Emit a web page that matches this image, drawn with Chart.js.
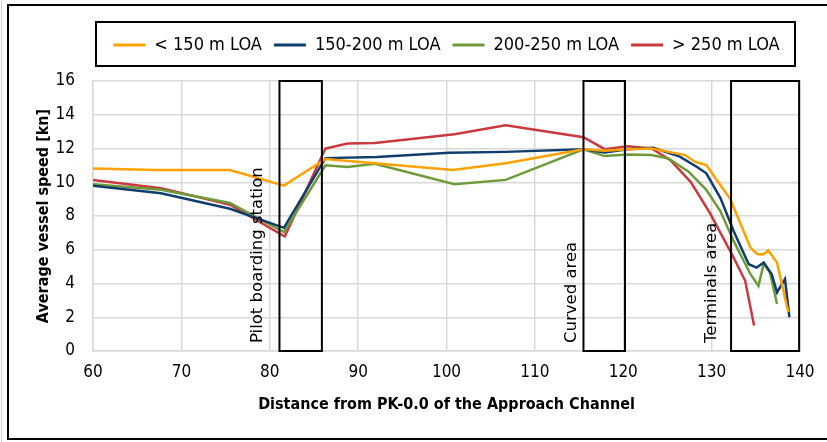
<!DOCTYPE html>
<html>
<head>
<meta charset="utf-8">
<script src="https://cdn.jsdelivr.net/npm/chart.js@4.4.1/dist/chart.umd.min.js"></script>
<style>
  html, body { margin: 0; padding: 0; background: #fff; }
  #wrap { position: relative; width: 827px; height: 442px; }
</style>
</head>
<body>
<div id="wrap"><canvas id="chart" width="827" height="442"></canvas></div>
<script>
// Speed profiles along the approach channel, one per LOA class
const seriesNames = ['< 150 m LOA', '150-200 m LOA', '200-250 m LOA', '> 250 m LOA'];

const distSmall = [60, 67.2, 75.5, 81.6, 86.3, 100.7, 106.7, 115.5, 117.9, 120.5, 123.2, 127.0, 128.1, 129.4, 130.7, 132.1, 133.0, 134.4, 135.2, 135.9, 136.4, 137.4, 138.5, 138.7];
const speedSmall = [10.82, 10.73, 10.73, 9.8, 11.38, 10.72, 11.12, 11.95, 11.86, 11.95, 12.0, 11.61, 11.22, 11.02, 10.04, 9.02, 7.88, 6.12, 5.73, 5.73, 5.96, 5.24, 2.69, 2.3];

const distMedium = [60, 67.7, 75.5, 81.6, 86.3, 92.1, 100.3, 106.7, 115.5, 117.9, 120.5, 123.4, 126.4, 128.3, 129.4, 131.0, 132.5, 134.2, 135.1, 135.9, 136.8, 137.4, 138.3, 138.8];
const speedMedium = [9.8, 9.35, 8.43, 7.3, 11.43, 11.5, 11.75, 11.8, 11.95, 11.76, 11.95, 12.04, 11.52, 10.92, 10.53, 9.06, 7.1, 5.14, 4.94, 5.24, 4.55, 3.47, 4.26, 2.0];

const distLarge = [60, 67.7, 75.5, 81.6, 86.3, 88.8, 91.9, 100.9, 106.7, 115.5, 117.9, 120.5, 123.2, 125.1, 127.4, 129.4, 131.0, 132.5, 134.4, 135.3, 135.9, 136.6, 137.4];
const speedLarge = [9.88, 9.55, 8.77, 7.05, 11.0, 10.9, 11.1, 9.88, 10.14, 11.95, 11.55, 11.65, 11.61, 11.41, 10.63, 9.55, 8.28, 6.51, 4.55, 3.86, 5.18, 4.65, 2.79];

const distXL = [60, 67.7, 75.5, 81.7, 86.3, 88.8, 91.9, 100.9, 106.7, 115.5, 117.9, 120.5, 123.2, 125.3, 127.6, 129.8, 132.3, 133.8, 134.8];
const speedXL = [10.14, 9.65, 8.67, 6.78, 12.0, 12.3, 12.33, 12.85, 13.38, 12.67, 11.96, 12.14, 12.0, 11.32, 10.04, 8.18, 5.73, 4.16, 1.51];

// marked stretches of the channel (km)
const zoneNames = ['Pilot boarding station', 'Curved area', 'Terminals area'];
const zoneStart = [81.1, 115.5, 132.2];
const zoneEnd = [85.9, 120.2, 139.9];

// where the zone captions sit (x in km)
const captionX = [78.6, 114.2, 130.0];

const colors = ['#FFA200', '#0F3D6E', '#6E9A3A', '#C9393D'];
const condensed = "'DejaVu Sans Condensed', 'Liberation Sans Narrow', sans-serif";

function toPoints(xs, ys) {
    return xs.map((x, i) => ({ x: x, y: ys[i] }));
}

const allDist = [distSmall, distMedium, distLarge, distXL];
const allSpeed = [speedSmall, speedMedium, speedLarge, speedXL];

const datasets = seriesNames.map((name, i) => ({
    label: name,
    data: toPoints(allDist[i], allSpeed[i]),
    borderColor: colors[i],
    backgroundColor: colors[i],
    borderWidth: 2.5,
    pointRadius: 0,
    tension: 0,
    fill: false
}));

// boxes, captions and the outer frame
const zonePlugin = {
    id: 'zones',
    beforeLayout(chart) {
        const lg = chart.legend;
        if (lg && !lg._tall) {
            const fit = lg.fit;
            lg.fit = function() { fit.call(this); this.height += 17; };
            lg._tall = true;
        }
    },
    afterDatasetsDraw(chart) {
        const ctx = chart.ctx;
        const xs = chart.scales.x, ys = chart.scales.y;
        const top = chart.chartArea.top, bottom = chart.chartArea.bottom;
        ctx.save();
        ctx.strokeStyle = '#000';
        ctx.lineWidth = 2;
        zoneNames.forEach((name, i) => {
            const x0 = xs.getPixelForValue(zoneStart[i]);
            const x1 = xs.getPixelForValue(zoneEnd[i]);
            ctx.strokeRect(x0, top, x1 - x0, bottom - top);
        });
        ctx.fillStyle = '#000';
        ctx.font = "16.5px 'DejaVu Sans', sans-serif";
        ctx.textAlign = 'left';
        ctx.textBaseline = 'middle';
        zoneNames.forEach((name, i) => {
            ctx.save();
            ctx.translate(xs.getPixelForValue(captionX[i]), ys.getPixelForValue(0) - 8);
            ctx.rotate(-Math.PI / 2);
            ctx.fillText(name, 0, 0);
            ctx.restore();
        });
        ctx.restore();
    },
    afterDraw(chart) {
        const ctx = chart.ctx;
        ctx.save();
        // legend frame
        const a = chart.chartArea;
        ctx.strokeStyle = '#000';
        ctx.lineWidth = 2;
        ctx.strokeRect(a.left + 3, 22, a.right - a.left - 8, 44);
        // outer frame
        ctx.strokeRect(8, 5, 830, 434);
        ctx.strokeStyle = '#d0d0d0';
        ctx.lineWidth = 1;
        ctx.beginPath();
        ctx.moveTo(1.5, 0);
        ctx.lineTo(1.5, 442);
        ctx.stroke();
        ctx.restore();
    }
};

new Chart(document.getElementById('chart'), {
    type: 'line',
    data: { datasets: datasets },
    options: {
        responsive: false,
        animation: false,
        layout: {
            padding: { top: 24, right: 27, bottom: 0, left: 8 }
        },
        plugins: {
            legend: {
                display: true,
                position: 'top',
                fullSize: false,
                labels: {
                    boxWidth: 32,
                    boxHeight: 3,
                    padding: 12,
                    color: '#000',
                    font: { family: condensed, size: 18 },
                    generateLabels: function(chart) {
                        const items = Chart.defaults.plugins.legend.labels.generateLabels(chart);
                        items.forEach(it => { it.lineWidth = 0; it.fillStyle = it.strokeStyle; });
                        return items;
                    }
                }
            },
            tooltip: { enabled: false }
        },
        scales: {
            x: {
                type: 'linear',
                min: 60,
                max: 140,
                ticks: {
                    stepSize: 10,
                    padding: 11,
                    color: '#000',
                    font: { family: condensed, size: 17 }
                },
                grid: { color: '#d9d9d9', lineWidth: 1.5, drawTicks: false },
                border: { color: '#d9d9d9', width: 1.5 },
                title: {
                    display: true,
                    text: 'Distance from PK-0.0 of the Approach Channel',
                    color: '#000',
                    font: { family: condensed, size: 16, weight: 'bold' },
                    padding: { top: 0, bottom: 28 }
                },
                afterFit: function(scale) { scale.height = 91; }
            },
            y: {
                min: 0,
                max: 16,
                ticks: {
                    stepSize: 2,
                    padding: 18,
                    color: '#000',
                    font: { family: condensed, size: 17 }
                },
                grid: { color: '#d9d9d9', lineWidth: 1.5, drawTicks: false },
                border: { color: '#d9d9d9', width: 1.5 },
                title: {
                    display: true,
                    text: 'Average vessel speed [kn]',
                    color: '#000',
                    font: { family: condensed, size: 16, weight: 'bold' },
                    padding: { top: 26, bottom: 0 }
                },
                afterFit: function(scale) { scale.width = 85; }
            }
        }
    },
    plugins: [zonePlugin]
});
</script>
</body>
</html>
